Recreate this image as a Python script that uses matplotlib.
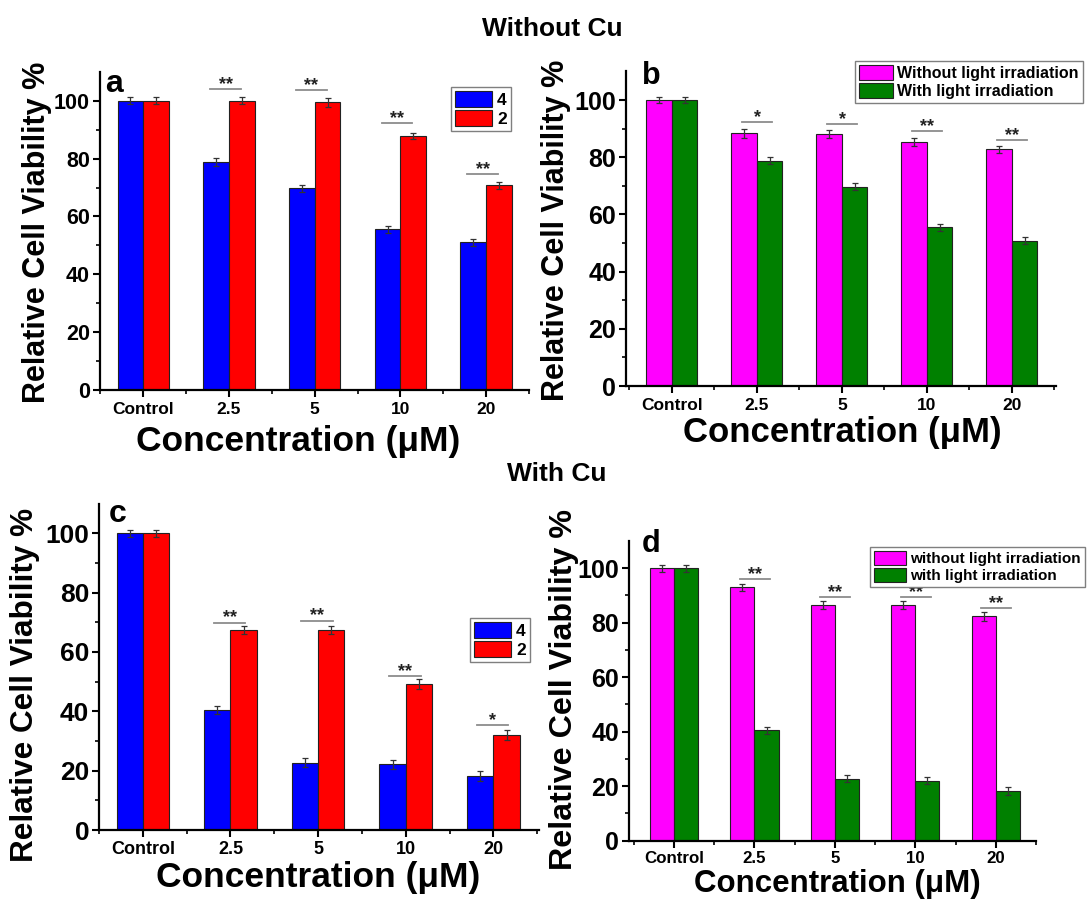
import numpy as np
import matplotlib
matplotlib.use('Agg')
import matplotlib.pyplot as plt
from matplotlib.ticker import FixedLocator

plt.rcParams['font.family'] = ['Liberation Sans', 'DejaVu Sans']
plt.rcParams['font.weight'] = 'bold'

# data
categories = ['Control', '2.5', '5', '10', '20']

# without Cu
a_comp4 = [100, 78.8, 69.8, 55.5, 51.0]
a_comp4_err = [1.2, 1.3, 1.2, 1.3, 1.3]
a_comp2 = [100, 100, 99.5, 87.7, 70.7]
a_comp2_err = [1.2, 1.3, 1.5, 1.1, 1.2]
a_sig = [103.9, 103.7, 92.2, 74.7]
a_stars = ['**', '**', '**', '**']

b_dark = [100, 88.4, 88.1, 85.3, 82.7]
b_dark_err = [1.2, 1.6, 1.5, 1.3, 1.3]
b_light = [100, 78.8, 69.7, 55.5, 50.8]
b_light_err = [1.2, 1.3, 1.2, 1.3, 1.3]
b_sig = [92.3, 91.5, 89.3, 86.0]
b_stars = ['*', '*', '**', '**']

# with Cu
c_comp4 = [100, 40.4, 22.7, 22.1, 18.3]
c_comp4_err = [1.2, 1.3, 1.5, 1.4, 1.7]
c_comp2 = [100, 67.3, 67.4, 49.2, 32.0]
c_comp2_err = [1.2, 1.4, 1.3, 1.6, 1.7]
c_sig = [69.9, 70.6, 51.9, 35.4]
c_stars = ['**', '**', '**', '*']

d_dark = [100, 93.0, 86.4, 86.4, 82.3]
d_dark_err = [1.2, 1.4, 1.4, 1.5, 1.6]
d_light = [100, 40.5, 22.8, 22.0, 18.2]
d_light_err = [1.2, 1.3, 1.4, 1.3, 1.6]
d_sig = [96.0, 89.3, 89.3, 85.4]
d_stars = ['**', '**', '**', '**']

W, H = 1088, 900
fig = plt.figure(figsize=(W / 100, H / 100), dpi=100)


def box(left, top, right, bottom):
    return [left / W, 1 - bottom / H, (right - left) / W, (bottom - top) / H]


def fpos(x, y):
    return x / W, 1 - y / H


def panel(rect, xlim, s1, e1, s2, e2, c1, c2, sig, stars, span, ytick_fs, xtick_fs, xpad=4):
    ax = fig.add_axes(rect)
    x = np.arange(len(categories))
    w = 0.3
    ekw = dict(ecolor='#333333', elinewidth=0.9, capsize=2.5, capthick=0.9)
    h1 = ax.bar(x - w / 2, s1, w, yerr=e1, color=c1, edgecolor='#222222',
                linewidth=0.8, error_kw=ekw)
    h2 = ax.bar(x + w / 2, s2, w, yerr=e2, color=c2, edgecolor='#222222',
                linewidth=0.8, error_kw=ekw)
    # significance markers
    for xi, ys, st in zip(x[1:], sig, stars):
        ax.plot([xi + span[0], xi + span[1]], [ys, ys], color='#8c8c8c', lw=1.3)
        ax.text(xi + (span[0] + span[1]) / 2, ys, st, ha='center',
                va='baseline', fontsize=13, color='#222222')
    ax.set_xlim(*xlim)
    ax.set_ylim(0, 110)
    ax.spines['top'].set_visible(False)
    ax.spines['right'].set_visible(False)
    for s in ('left', 'bottom'):
        ax.spines[s].set_linewidth(1.6)
    ax.set_xticks(x)
    ax.set_xticklabels(categories)
    ax.xaxis.set_minor_locator(FixedLocator(np.arange(-0.5, 5, 1)))
    ax.set_yticks(np.arange(0, 101, 20))
    ax.yaxis.set_minor_locator(FixedLocator([10, 30, 50, 70, 90]))
    ax.tick_params(axis='both', which='major', direction='out', length=5, width=1.5)
    ax.tick_params(axis='both', which='minor', direction='out', length=3, width=1.2)
    ax.tick_params(axis='y', labelsize=ytick_fs, pad=2)
    ax.tick_params(axis='x', labelsize=xtick_fs, pad=xpad)
    return ax, h1, h2


def legend(ax, handles, labels, x, y, fs, hl, hh):
    leg = ax.legend(handles, labels, loc='upper left', bbox_to_anchor=fpos(x, y),
                    bbox_transform=fig.transFigure, fontsize=fs, frameon=True,
                    fancybox=False, edgecolor='#7f7f7f', framealpha=1,
                    borderpad=0.25, labelspacing=0.12, handlelength=hl,
                    handleheight=hh, handletextpad=0.3, borderaxespad=0)
    leg.get_frame().set_linewidth(1.0)


# a
ax, h1, h2 = panel(box(99.5, 71.8, 529, 390), (-0.51, 4.5), a_comp4, a_comp4_err,
                   a_comp2, a_comp2_err, '#0000ff', '#ff0000', a_sig, a_stars,
                   (-0.22, 0.14), 15.5, 12.5)
legend(ax, [h1, h2], ['4', '2'], 451, 87, 12.5, 2.1, 1.0)

# b
ax, h1, h2 = panel(box(626, 71.4, 1056, 386), (-0.54, 4.52), b_dark, b_dark_err,
                   b_light, b_light_err, '#ff00ff', '#008000', b_sig, b_stars,
                   (-0.17, 0.18), 18, 12.5)
legend(ax, [h1, h2], ['Without light irradiation', 'With light irradiation'],
       855, 61, 11.5, 2.1, 1.06)

# c
ax, h1, h2 = panel(box(99, 503.6, 539, 830), (-0.5, 4.52), c_comp4, c_comp4_err,
                   c_comp2, c_comp2_err, '#0000ff', '#ff0000', c_sig, c_stars,
                   (-0.19, 0.17), 19, 13, xpad=3)
legend(ax, [h1, h2], ['4', '2'], 470, 618, 12.5, 2.1, 1.0)

# d
ax, h1, h2 = panel(box(629, 541, 1036, 840.7), (-0.56, 4.5), d_dark, d_dark_err,
                   d_light, d_light_err, '#ff00ff', '#008000', d_sig, d_stars,
                   (-0.18, 0.19), 18, 12.2, xpad=2.5)
legend(ax, [h1, h2], ['without light irradiation', 'with light irradiation'],
       870, 547, 11, 2.1, 1.06)

# axis titles
ylab = 'Relative Cell Viability %'
xlab = 'Concentration (\u03bcM)'
for (x, y, fs) in [(37, 232, 22), (556, 230, 22), (25, 685, 22.7), (564, 690, 23.2)]:
    fig.text(*fpos(x, y), ylab, rotation=90, ha='center', va='center', fontsize=fs)
for (x, y, fs) in [(298, 441, 25.5), (842, 433, 25), (318, 877, 25.5), (837, 884, 22.5)]:
    fig.text(*fpos(x, y), xlab, ha='center', va='center', fontsize=fs)

# panel letters
for (x, y, s, fs) in [(114, 84, 'a', 23), (651, 76, 'b', 22),
                      (118, 514, 'c', 23), (651, 544, 'd', 22)]:
    fig.text(*fpos(x, y), s, ha='center', va='center', fontsize=fs)

fig.text(*fpos(552, 29), 'Without Cu', ha='center', va='center', fontsize=19)
fig.text(*fpos(557, 474), 'With Cu', ha='center', va='center', fontsize=19)

fig.savefig('out.png', dpi=100)
